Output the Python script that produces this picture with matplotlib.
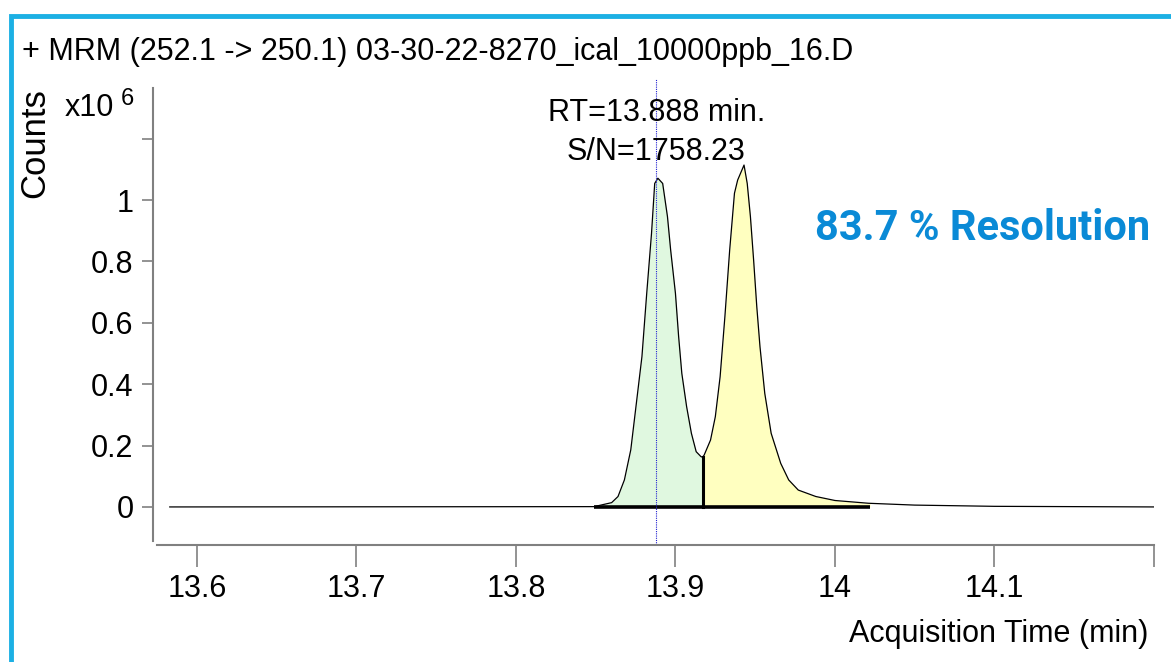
import matplotlib
matplotlib.use("Agg")
import matplotlib.pyplot as plt
from matplotlib.patches import Rectangle

# chromatogram trace (min, counts x10^6)
times = [13.583, 13.849, 13.860, 13.864, 13.868, 13.872, 13.875, 13.879, 13.882,
         13.885, 13.887, 13.889, 13.892, 13.895, 13.897, 13.900, 13.902, 13.904,
         13.907, 13.910, 13.913, 13.916, 13.917, 13.918, 13.922, 13.925, 13.928,
         13.931, 13.934, 13.937, 13.939, 13.943, 13.945, 13.947, 13.949, 13.951,
         13.953, 13.956, 13.960, 13.966, 13.971, 13.977, 13.988, 14.000, 14.021,
         14.050, 14.100, 14.201]
counts = [0.0, 0.001, 0.014, 0.034, 0.088, 0.186, 0.316, 0.490, 0.696,
          0.891, 1.054, 1.071, 1.054, 0.946, 0.837, 0.696, 0.555, 0.435,
          0.327, 0.240, 0.180, 0.164, 0.162, 0.169, 0.218, 0.294, 0.424,
          0.620, 0.837, 1.022, 1.065, 1.114, 1.054, 0.946, 0.805, 0.652,
          0.522, 0.370, 0.240, 0.142, 0.088, 0.055, 0.034, 0.021, 0.012,
          0.006, 0.002, 0.0]

# integration: start, split, end
peak_start = 13.849
peak_split = 13.917
peak_end = 14.022
rt = 13.888
sn = 1758.23
resolution = 83.7

xticks = [13.6, 13.7, 13.8, 13.9, 14.0, 14.1, 14.2]
xlabels = ["13.6", "13.7", "13.8", "13.9", "14", "14.1", ""]
yticks = [0, 0.2, 0.4, 0.6, 0.8, 1.0, 1.2]
ylabels = ["0", "0.2", "0.4", "0.6", "0.8", "1", ""]

font = "Liberation Sans"

fig = plt.figure(figsize=(11.71, 6.62), dpi=100)
ax = fig.add_axes([157 / 1171, 1 - 545 / 662, (1154 - 157) / 1171, (545 - 88) / 662])
ax.set_xlim(13.575, 14.2)
ax.set_ylim(-0.124, 1.365)

def interp(x):
    for i in range(len(times) - 1):
        if times[i] <= x <= times[i + 1]:
            f = (x - times[i]) / (times[i + 1] - times[i])
            return counts[i] + f * (counts[i + 1] - counts[i])
    return 0.0

def segment(a, b):
    xs = [a] + [t for t in times if a < t < b] + [b]
    return xs, [interp(x) for x in xs]

# shaded areas of the two integrated peaks
x1, y1 = segment(peak_start, peak_split)
x2, y2 = segment(peak_split, peak_end)
ax.fill_between(x1, 0, y1, color="#e0f8e0", lw=0)
ax.fill_between(x2, 0, y2, color="#ffffc0", lw=0)

ax.plot(times, counts, color="black", lw=0.9)
ax.plot([peak_start, peak_end], [0, 0], color="black", lw=2.6, solid_capstyle="butt")
ax.plot([peak_split, peak_split], [0, interp(peak_split)], color="black", lw=2.2)
ax.axvline(rt, ymin=0, ymax=1.02, color="#2020d0", lw=0.8, ls=(0, (1, 1)), clip_on=False)

ax.text(rt, 1.285, "RT=%.3f min." % rt, ha="center", va="center", fontsize=22, family=font)
ax.text(rt, 1.155, "S/N=%.2f" % sn, ha="center", va="center", fontsize=22, family=font)
fig.text(0.9825, 1 - 228 / 662, "%.1f %% Resolution" % resolution, ha="right", va="center",
         fontsize=30, color="#0a8ad6", family="Roboto", weight="bold")

for s in ["top", "right"]:
    ax.spines[s].set_visible(False)
ax.spines["left"].set_position(("outward", 3))
ax.spines["left"].set_bounds(-0.11, 1.365)
for s in ["left", "bottom"]:
    ax.spines[s].set_color("#808080")
    ax.spines[s].set_linewidth(1.5)

ax.set_xticks(xticks)
ax.set_xticklabels(xlabels, family=font, fontsize=22)
ax.set_yticks(yticks)
ax.set_yticklabels(ylabels, family=font, fontsize=22)
ax.tick_params(axis="x", length=16, width=1.2, color="#808080", pad=5)
ax.tick_params(axis="y", length=8, width=1.2, color="#808080", pad=6)

fig.text(22 / 1171, 1 - 52 / 662, "+ MRM (252.1 -> 250.1) 03-30-22-8270_ical_10000ppb_16.D",
         ha="left", va="center", fontsize=22, family=font)
fig.text(35 / 1171, 1 - 143 / 662, "Counts", rotation=90, ha="center", va="center",
         fontsize=25, family=font)
fig.text(65 / 1171, 1 - 108 / 662, "x10", ha="left", va="center", fontsize=22, family=font)
fig.text(121 / 1171, 1 - 99 / 662, "6", ha="left", va="center", fontsize=17, family=font)
fig.text(1148 / 1171, 1 - 634 / 662, "Acquisition Time (min)", ha="right", va="center",
         fontsize=22, family=font)

# frame around the panel
fig.patches.append(Rectangle((11 / 1171, -0.05), 1.2, 1 - 16 / 662 + 0.05,
                             transform=fig.transFigure, fill=False,
                             edgecolor="#1cb0e4", lw=3.5))

fig.savefig("out.png", dpi=100)
